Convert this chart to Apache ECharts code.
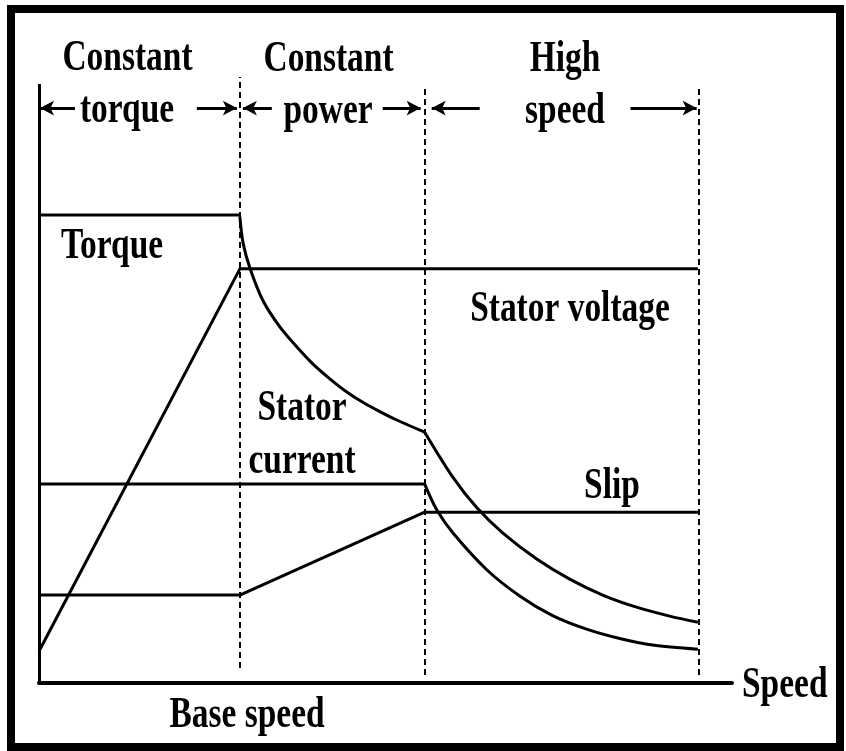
<!DOCTYPE html>
<html>
<head>
<meta charset="utf-8">
<script src="https://cdn.jsdelivr.net/npm/echarts@6/dist/echarts.min.js"></script>
<style>
html,body{margin:0;padding:0;background:#fff;}
#chart{width:846px;height:751px;}
</style>
</head>
<body>
<div id="chart"></div>
<script>
// Speed in per-unit of base speed, quantities in per-unit of rated torque
var baseSpeed = 1.0;
var cpEnd = 1.92;
var maxSpeed = 3.284;

var torqueFlat = [[0, 1.0], [1.0, 1.0]];
var torqueCP = [[1.0, 0.996], [1.016, 0.94], [1.05, 0.887], [1.114, 0.818], [1.199, 0.761], [1.284, 0.718],
  [1.363, 0.682], [1.448, 0.65], [1.532, 0.622], [1.612, 0.6], [1.697, 0.58], [1.781, 0.562], [1.92, 0.536]];
var torqueHS = [[1.92, 0.536], [2.06, 0.44], [2.179, 0.375], [2.308, 0.321], [2.478, 0.265], [2.642, 0.222],
  [2.806, 0.188], [2.975, 0.162], [3.139, 0.143], [3.28, 0.13]];
var voltage = [[0, 0.068], [1.0, 0.885], [3.28, 0.885]];
var currentFlat = [[0, 0.425], [1.92, 0.425]];
var currentHS = [[1.92, 0.425], [1.98, 0.37], [2.06, 0.321], [2.229, 0.242], [2.393, 0.186], [2.557, 0.144],
  [2.726, 0.115], [2.891, 0.095], [3.055, 0.081], [3.28, 0.072]];
var slip = [[0, 0.188], [1.0, 0.188], [1.92, 0.365], [3.28, 0.365]];

// region boundaries (dashed): [x, yBottom, yTop]
var boundaries = [[baseSpeed, 0.032, 1.295], [cpEnd, 0.017, 1.278], [maxSpeed, 0.017, 1.278]];
// region arrows: [fromX, toX, y] (arrowhead at toX)
var arrows = [[0.179, 0.005, 1.2286], [0.786, 0.985, 1.2286], [1.159, 1.015, 1.2286],
  [1.711, 1.9, 1.2286], [2.194, 1.955, 1.2286], [2.945, 3.274, 1.2286]];
// labels: [text, x, y, align]
var labels = [
  ['Constant', 0.4406, 1.3347, 'center'],
  ['Constant', 1.4413, 1.3326, 'center'],
  ['High', 2.6186, 1.3326, 'center'],
  ['torque', 0.4381, 1.2226, 'center'],
  ['power', 1.4387, 1.2205, 'center'],
  ['speed', 2.6186, 1.2205, 'center'],
  ['Torque', 0.3634, 0.9331, 'center'],
  ['Stator voltage', 2.6435, 0.7985, 'center'],
  ['Stator', 1.3093, 0.5858, 'center'],
  ['current', 1.3093, 0.4725, 'center'],
  ['Slip', 2.8526, 0.4191, 'center'],
  ['Speed', 3.4998, -0.005, 'left'],
  ['Base speed', 1.0355, -0.069, 'center']
];
var yAxisTop = 1.28;

var chart = echarts.init(document.getElementById('chart'), null, {renderer: 'canvas'});
var lineStyle = {color: '#000', width: 3};
function curve(data, smooth) {
  return {type: 'line', data: data, showSymbol: false, symbol: 'none', smooth: smooth ? 0.3 : false,
    lineStyle: lineStyle, silent: true, clip: false};
}
var series = [
  curve(torqueFlat), curve(torqueCP, true), curve(torqueHS, true),
  curve(voltage), curve(currentFlat), curve(currentHS, true), curve(slip),
  {
    type: 'line', data: [], silent: true,
    markLine: {
      silent: true, symbol: ['none', 'none'], animation: false, label: {show: false},
      data: boundaries.map(function (b) {
        return [{coord: [b[0], b[1]], lineStyle: {type: [6, 4], width: 2, color: '#000'}},
                {coord: [b[0], b[2]]}];
      }).concat([[{coord: [0, 0], lineStyle: {type: 'solid', width: 3, color: '#000'}}, {coord: [0, yAxisTop]}]])
    }
  },
  {
    type: 'line', data: [], silent: true,
    markLine: {
      silent: true, symbol: ['none', 'arrow'], symbolSize: [11, 14], animation: false, label: {show: false},
      lineStyle: {type: 'solid', width: 3, color: '#000'},
      data: arrows.map(function (a) {
        return [{coord: [a[0], a[2]]}, {coord: [a[1], a[2]]}];
      })
    }
  }
];

chart.setOption({
  animation: false,
  backgroundColor: '#ffffff',
  grid: {left: 39, right: 114, top: 77, bottom: 68, containLabel: false},
  xAxis: {type: 'value', min: 0, max: 3.45, axisLine: {show: true, lineStyle: {color: '#000', width: 4}},
    axisTick: {show: false}, axisLabel: {show: false}, splitLine: {show: false}},
  yAxis: {type: 'value', min: 0, max: 1.295, axisLine: {show: false},
    axisTick: {show: false}, axisLabel: {show: false}, splitLine: {show: false}},
  series: series
});

var g = [{type: 'rect', shape: {x: 11, y: 9, width: 829, height: 738}, style: {fill: 'none', stroke: '#000', lineWidth: 8}}];
labels.forEach(function (l) {
  var p = chart.convertToPixel({gridIndex: 0}, [l[1], l[2]]);
  g.push({type: 'text', x: p[0], y: p[1], scaleX: 0.76, silent: true,
    style: {text: l[0], font: 'bold 44px "Liberation Serif", "DejaVu Serif", serif', fill: '#000',
      textAlign: l[3], textVerticalAlign: 'middle'}});
});
chart.setOption({graphic: g});
</script>
</body>
</html>
